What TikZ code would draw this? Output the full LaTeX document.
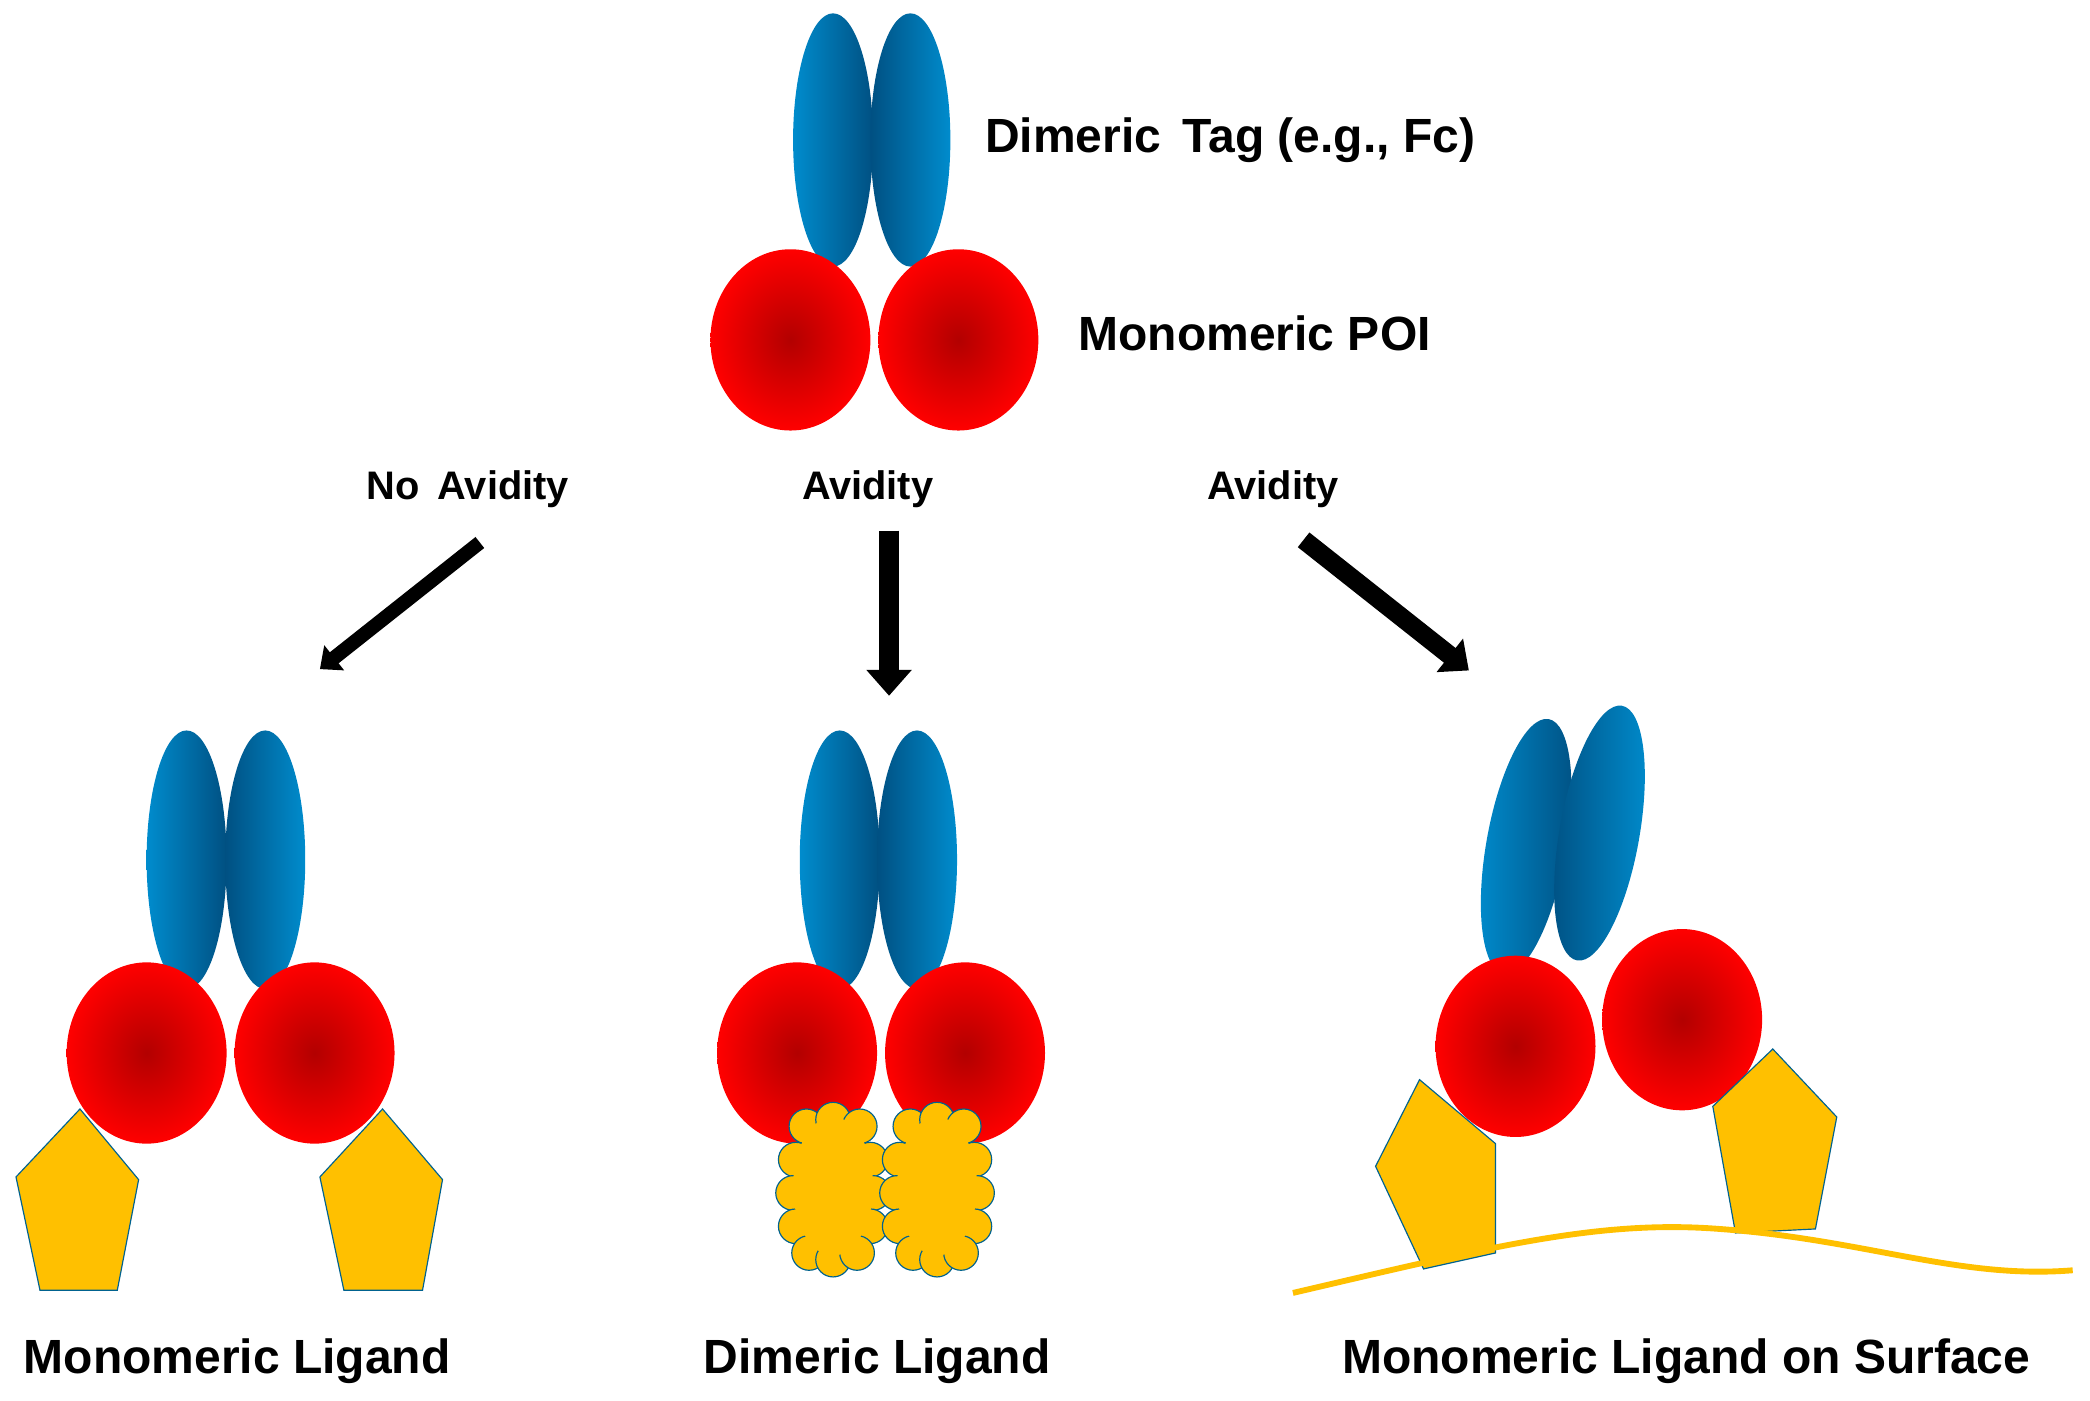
\documentclass[tikz,border=0pt]{standalone}
\usepackage{fontspec}
\setmainfont{Liberation Sans}
\usetikzlibrary{arrows.meta,shapes.geometric}
\definecolor{bl}{RGB}{0,140,205}
\definecolor{bd}{RGB}{0,80,130}
\definecolor{yl}{RGB}{255,192,0}
\tikzset{
 lbl/.style={font=\fontsize{20.5}{24}\selectfont\bfseries},
 poi/.style={inner color=red!70!black, outer color=red, draw=none},
 tagL/.style={left color=bl, right color=bd, draw=none},
 tagR/.style={left color=bd, right color=bl, draw=none},
 lig/.style={fill=yl, draw=bl!70!black, line width=0.5pt},
 arr/.style={-{Triangle[width=#1*2.2pt,length=#1*1.3pt]}, line width=#1 pt}
}
\begin{document}
\begin{tikzpicture}[x=0.02cm,y=-0.02cm]
\useasboundingbox (0,0) rectangle (1568,1051);
% top
\shade[tagL] (625,105) ellipse [x radius=30,y radius=95];
\shade[tagR] (683,105) ellipse [x radius=30,y radius=95];
\shade[poi] (593,255) ellipse [x radius=60,y radius=68];
\shade[poi] (719,255) ellipse [x radius=60,y radius=68];
\node[lbl,anchor=west] (tag) at (733,105) {Dimeric\, Tag (e.g., Fc)};
\node[lbl,anchor=west] (poi) at (803,250) {Monomeric POI};
% arrows
\node[lbl,font=\fontsize{17}{20}\selectfont\bfseries] (na) at (351,367) {No\, Avidity};
\node[lbl,font=\fontsize{17}{20}\selectfont\bfseries] (a1) at (651,367) {Avidity};
\node[lbl,font=\fontsize{17}{20}\selectfont\bfseries] (a2) at (955,367) {Avidity};
\coordinate (s1) at (360,407); \coordinate (e1) at (240,502);
\coordinate (s2) at (667,398); \coordinate (e2) at (667,522);
\coordinate (s3) at (978,405); \coordinate (e3) at (1102,503);
\draw[arr=6] (s1) -- (e1);
\draw[arr=8.5] (s2) -- (e2);
\draw[arr=8] (s3) -- (e3);
% left
\shade[tagL] (140,645) ellipse [x radius=30,y radius=97];
\shade[tagR] (199,645) ellipse [x radius=30,y radius=97];
\shade[poi] (110,790) ellipse [x radius=60,y radius=68];
\shade[poi] (236,790) ellipse [x radius=60,y radius=68];
\draw[lig] (60,832)--(104,885)--(88,968)--(30,968)--(12,883)--cycle;
\draw[lig] (287,832)--(332,885)--(317,968)--(258,968)--(240,883)--cycle;
% middle
\shade[tagL] (630,645) ellipse [x radius=30,y radius=97];
\shade[tagR] (688,645) ellipse [x radius=30,y radius=97];
\shade[poi] (598,790) ellipse [x radius=60,y radius=68];
\shade[poi] (724,790) ellipse [x radius=60,y radius=68];
\foreach \cx in {625,703}{
 \foreach \dx/\dy in {-20/-45,0/-50,20/-45,-28/-20,28/-20,-30/5,30/5,-28/30,28/30,-18/50,0/55,18/50}{
  \draw[lig] (\cx+\dx,890+\dy) circle [radius=13];}
 \fill[yl] (\cx,890) ellipse [x radius=30,y radius=52];
}
% right
\shade[tagL,rotate around={-10:(1145,635)}] (1145,635) ellipse [x radius=30,y radius=97];
\shade[tagR,rotate around={-10:(1200,625)}] (1200,625) ellipse [x radius=30,y radius=97];
\shade[poi] (1137,785) ellipse [x radius=60,y radius=68];
\shade[poi] (1262,765) ellipse [x radius=60,y radius=68];
\draw[lig] (1065,810)--(1122,858)--(1122,940)--(1068,952)--(1032,875)--cycle;
\draw[lig] (1330,787)--(1378,838)--(1362,922)--(1302,925)--(1285,830)--cycle;
\draw[yl,line width=2.5pt] (970,970) .. controls (1120,935) and (1200,915) .. (1290,922) .. controls (1400,930) and (1470,960) .. (1555,953);
% bottom labels
\node[lbl] (l1) at (178,1021) {Monomeric Ligand};
\node[lbl] (l2) at (658,1021) {Dimeric Ligand};
\node[lbl] (l3) at (1265,1021) {Monomeric Ligand on Surface};
\end{tikzpicture}
\end{document}
